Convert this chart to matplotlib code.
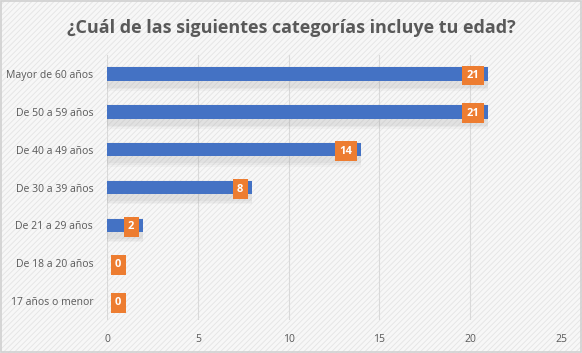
import matplotlib
matplotlib.use("Agg")
import matplotlib.pyplot as plt
from matplotlib.patches import Rectangle

categorias = ["Mayor de 60 años", "De 50 a 59 años", "De 40 a 49 años",
              "De 30 a 39 años", "De 21 a 29 años", "De 18 a 20 años",
              "17 años o menor"]
valores = [21, 21, 14, 8, 2, 0, 0]
xticks = [0, 5, 10, 15, 20, 25]

azul = "#4472c4"
naranja = "#ed7d31"
gris = "#595959"

plt.rcParams["font.family"] = ["Open Sans", "DejaVu Sans"]
plt.rcParams["hatch.color"] = "#e6e6e6"
plt.rcParams["hatch.linewidth"] = 0.6

fig = plt.figure(figsize=(5.82, 3.53), dpi=100)
fig.patch.set_facecolor("#f7f7f7")
# fondo rayado + borde
fig.patches.append(Rectangle((0, 0), 1, 1, transform=fig.transFigure, facecolor="#f7f7f7",
                             hatch="//////", edgecolor="#e4e4e4", linewidth=0, zorder=-5))
fig.patches.append(Rectangle((0.002, 0.003), 0.996, 0.994, transform=fig.transFigure,
                             fill=False, edgecolor="#d0d0d0", linewidth=1.2))

ax = fig.add_axes([0.184, 0.0935, 0.78, 0.7505])
ax.patch.set_alpha(0)

y = list(range(len(categorias)))
# sombra suave debajo de las barras
for k, a in [(0.30, 0.05), (0.22, 0.06), (0.14, 0.07)]:
    ax.barh([i + 0.12 for i in y], valores, height=0.35 + k, color="#7f7f7f", alpha=a,
            linewidth=0, zorder=1)
ax.barh(y, valores, height=0.36, color=azul, zorder=2)

for i, v in enumerate(valores):
    if v > 0:
        x, ha = v - 0.5, "right"
    else:
        x, ha = 0.44, "left"
    ax.text(x, i + 0.04, str(v), ha=ha, va="center", color="white", fontsize=8,
            fontweight="bold", zorder=4,
            bbox=dict(boxstyle="square,pad=0.4", fc=naranja, ec="none"))

ax.set_xlim(0, 25)
ax.set_ylim(6.5, -0.5)
ax.set_xticks(xticks)
ax.set_yticks(y)
ax.set_yticklabels(categorias)
ax.tick_params(length=0, labelsize=7.5, colors=gris)
ax.tick_params(axis="x", pad=10)
ax.tick_params(axis="y", pad=10)
for s in ax.spines.values():
    s.set_visible(False)
ax.grid(axis="x", color="#d9d9d9", linewidth=0.8, zorder=0)
ax.set_axisbelow(True)

fig.text(0.5, 0.92, "¿Cuál de las siguientes categorías incluye tu edad?", ha="center",
         va="center", fontsize=13, fontweight="bold", color=gris)

fig.savefig("out.png", dpi=100, facecolor=fig.get_facecolor())
